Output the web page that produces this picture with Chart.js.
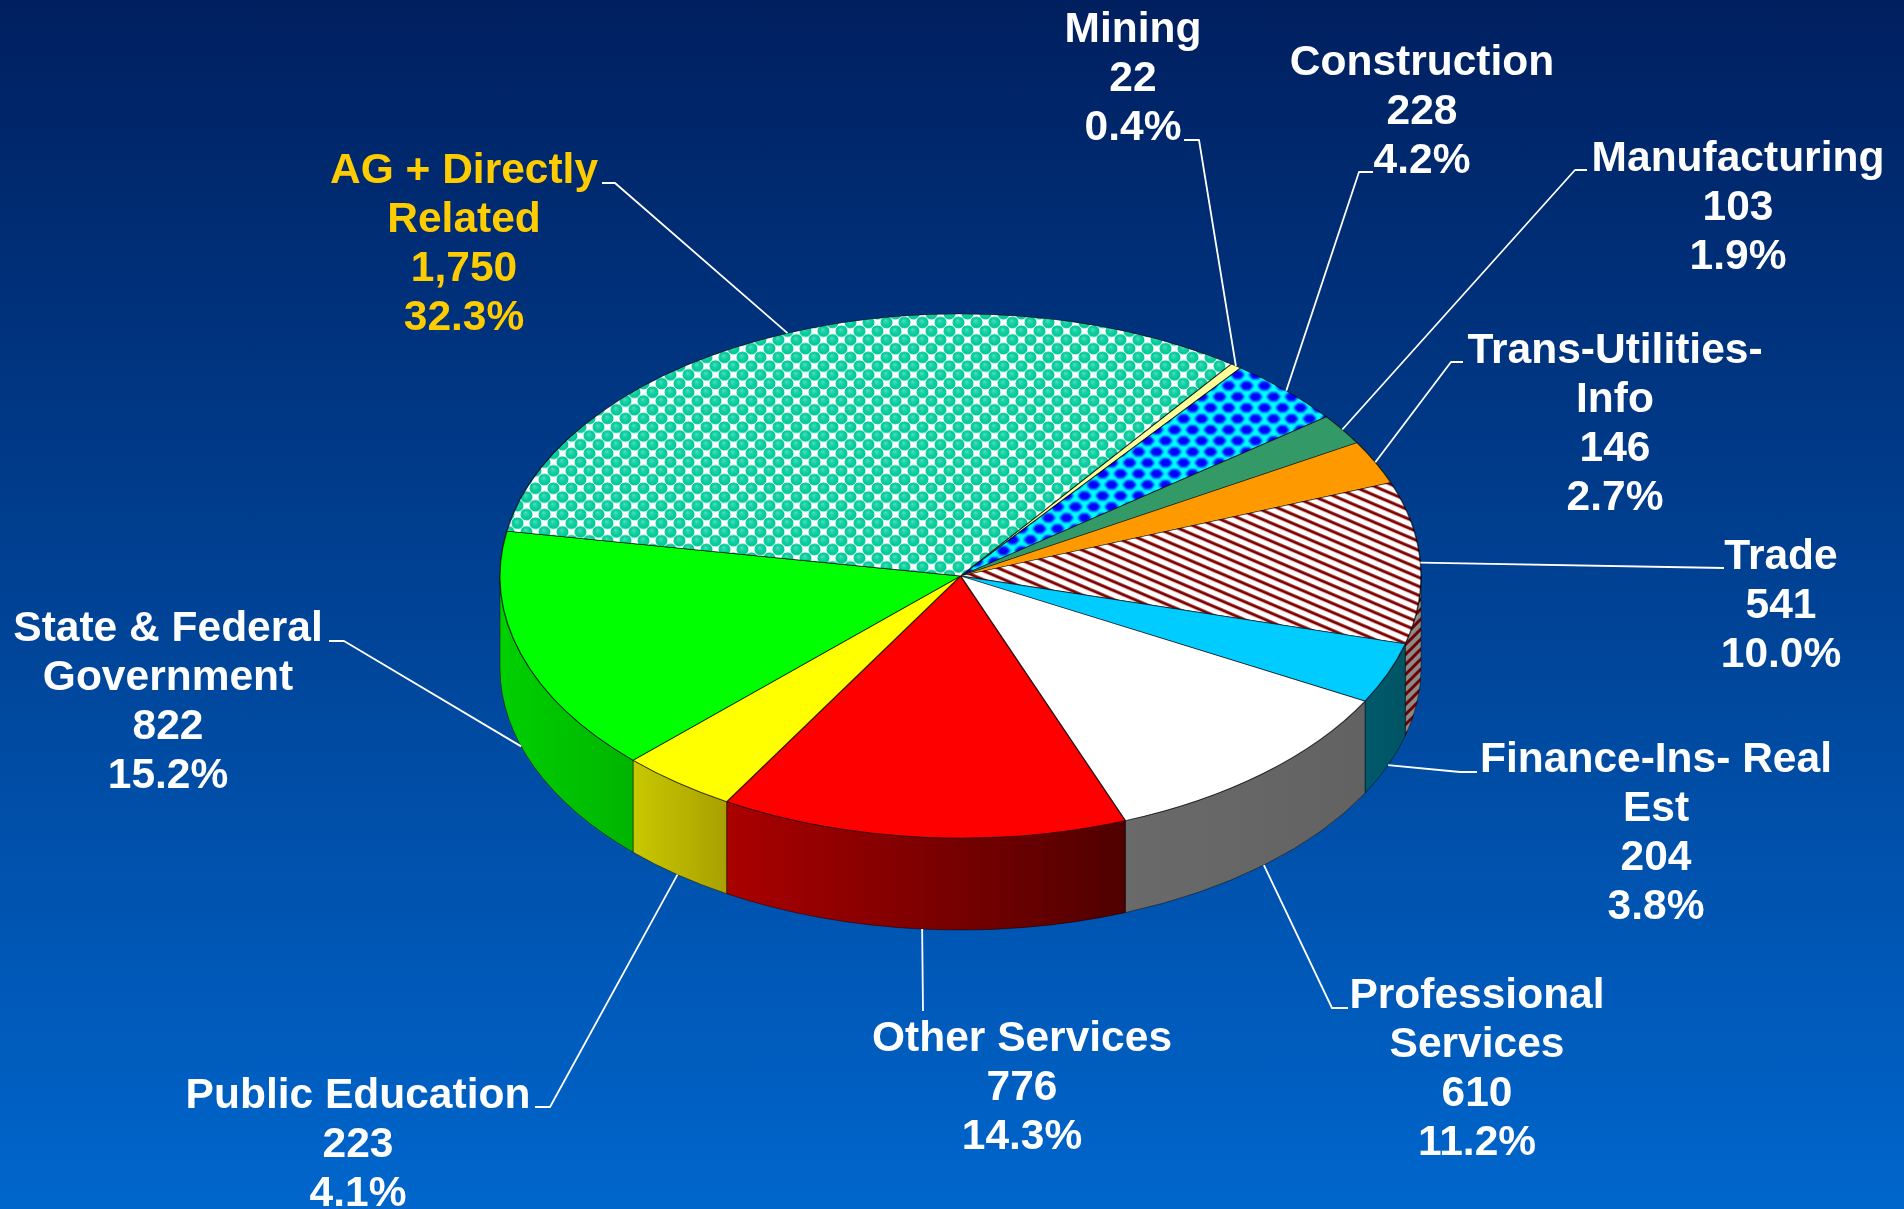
<!DOCTYPE html>
<html><head><meta charset="utf-8">
<style>html,body{margin:0;padding:0;width:1904px;height:1209px;overflow:hidden;background:linear-gradient(180deg,#001f5f 0%,#0066cc 100%)}canvas{display:block}</style>
<script src="https://cdn.jsdelivr.net/npm/chart.js@4/dist/chart.umd.min.js"></script>
</head><body><canvas id="c" width="1904" height="1209"></canvas>
<script>
const categories=['Mining','Construction','Manufacturing','Trans-Utilities-Info','Trade','Finance-Ins- Real Est','Professional Services','Other Services','Public Education','State & Federal Government','AG + Directly Related'];
const jobs=[22,228,103,146,541,204,610,776,223,822,1750];
const percents=[0.4,4.2,1.9,2.7,10.0,3.8,11.2,14.3,4.1,15.2,32.3];
const nameLines=[['Mining'],['Construction'],['Manufacturing'],['Trans-Utilities-','Info'],['Trade'],['Finance-Ins- Real','Est'],['Professional','Services'],['Other Services'],['Public Education'],['State & Federal','Government'],['AG + Directly','Related']];

// layout (not data)
const CX=960.5,CY=576,RX=460.5,RY=262,DEPTH=92,ROT=36;
const labelCenterX=[1133,1422,1738,1615,1781,1656,1477,1022,358,168,464];
const labelFirstY=[30,63,159,351,557,760,996,1039,1096,629,171];
const LINE=49.2;
const elbows=[[[1184,140],[1199,140]],[[1373,172],[1359,172]],[[1587,170],[1575,170]],[[1463,362],[1451,362]],[[1724,568]],[[1477,772],[1460,772]],[[1348,1008],[1332,1008]],[[923,1011]],[[535,1107],[550,1107]],[[329,641],[344,641]],[[602,183],[615,183]]];
const wallColors=[['#b0b070','#a0a060'],['#0000a0','#0000a0'],['#226644','#226644'],['#aa6600','#aa6600'],null,['#005a6c','#005463'],['#6a6a6a','#626262'],['#aa0000','#500000'],['#c8c800','#a8a000'],['#00d000','#00b400'],['#00a078','#00a078']];

function tile(w,h,draw){const t=document.createElement('canvas');t.width=w;t.height=h;draw(t.getContext('2d'),w,h);return t;}
const ctx0=document.getElementById('c').getContext('2d');
function pat(t,sy){const p=ctx0.createPattern(t,'repeat');p.setTransform(new DOMMatrix().scale(1,(sy||1)*RX/RY));return p;}
const agTile=tile(18,18,(c,w,h)=>{c.fillStyle='#fff';c.fillRect(0,0,w,h);
  [[4.5,4.5],[13.5,13.5],[-4.5,13.5],[13.5,-4.5],[22.5,4.5],[4.5,22.5]].forEach(([x,y])=>{
    const g=c.createRadialGradient(x-1,y-2,0,x,y,6.3);g.addColorStop(0,'#4fe0bc');g.addColorStop(.45,'#14d0a2');g.addColorStop(.88,'#00c896');g.addColorStop(1,'rgba(0,200,150,.3)');
    c.fillStyle=g;c.beginPath();c.arc(x,y,6.3,0,7);c.fill();});});
const conTile=tile(18,22,(c,w,h)=>{c.fillStyle='#00ffff';c.fillRect(0,0,w,h);
  c.filter='blur(0.8px)';c.fillStyle='#0000ff';
  [[4.5,5.5],[13.5,16.5],[-4.5,16.5],[22.5,5.5],[4.5,27.5],[13.5,-5.5]].forEach(([x,y])=>{
    c.beginPath();c.moveTo(x-7,y);c.lineTo(x-3,y-4.5);c.lineTo(x+3,y-4.5);c.lineTo(x+7,y);c.lineTo(x+3,y+4.5);c.lineTo(x-3,y+4.5);c.closePath();c.fill();});
  c.filter='none';});
function stripes(bg,fg,w,h,lw,up,bl){return tile(w,h,(c)=>{c.fillStyle=bg;c.fillRect(0,0,w,h);c.strokeStyle=fg;c.lineWidth=lw;
  if(bl)c.filter='blur('+bl+'px)';
  for(let k=-3;k<=3;k++){c.beginPath();if(up){c.moveTo(-w,h*k+2*h);c.lineTo(2*w,h*k-h);}else{c.moveTo(-w,h*k-h);c.lineTo(2*w,h*k+2*h);}c.stroke();}
  c.filter='none';});}
const tradeTile=stripes('#fff','#800000',21,9,3,false,0.5);
const tradeWall=ctx0.createPattern(stripes('#8a8a8a','#6e0000',10,10,3,true),'repeat');
const sliceFills=[ '#ffff99',pat(conTile),'#339966','#ff9900',pat(tradeTile),'#00ccff','#ffffff','#ff0000','#ffff00','#00ff00',pat(agTile,.97)];

const pie3d={id:'pie3d',
 beforeDatasetsDraw(chart){
  const c=chart.ctx,arcs=chart.getDatasetMeta(0).data,two=Math.PI*2;
  c.save();
  arcs.forEach((a,i)=>{
    for(const shift of [0,-two]){
      const s=a.startAngle+shift,e=a.endAngle+shift;
      const a0=Math.max(s,0),a1=Math.min(e,Math.PI);
      if(a1<=a0)continue;
      c.beginPath();
      c.ellipse(a.x,a.y,RX,RY,0,a0,a1);
      c.ellipse(a.x,a.y+DEPTH,RX,RY,0,a1,a0,true);
      c.closePath();
      if(wallColors[i]){
        const xa=a.x+RX*Math.cos(a0),xb=a.x+RX*Math.cos(a1);
        const g=c.createLinearGradient(Math.min(xa,xb),0,Math.max(xa,xb),0);
        g.addColorStop(0,wallColors[i][0]);g.addColorStop(1,wallColors[i][1]);
        c.fillStyle=g;
      } else c.fillStyle=tradeWall;
      c.fill();
      c.strokeStyle='rgba(0,0,0,.45)';c.lineWidth=1;c.stroke();
    }
  });
  c.restore();
  c.save();
  c.translate(CX,CY);c.scale(1,RY/RX);c.translate(-CX,-CY);
 },
 afterDatasetsDraw(chart){
  const c=chart.ctx;c.restore();
  const arcs=chart.getDatasetMeta(0).data;
  c.save();
  c.font='bold 42.5px "Liberation Sans", Arial, sans-serif';
  c.textAlign='center';c.textBaseline='middle';
  arcs.forEach((a,i)=>{
    const m=(a.startAngle+a.endAngle)/2, sn=Math.sin(m), cs=Math.cos(m);
    const px=a.x+RX*cs, py=a.y+RY*sn+(sn>0.05?DEPTH:0);
    c.strokeStyle='#fff';c.lineWidth=1.8;c.lineJoin='round';
    c.beginPath();c.moveTo(px,py);
    elbows[i].slice().reverse().forEach(p=>c.lineTo(p[0],p[1]));
    c.stroke();
    const lines=[...nameLines[i],jobs[i].toLocaleString('en-US'),percents[i].toFixed(1)+'%'];
    c.fillStyle=i===10?'#ffcc00':'#ffffff';
    lines.forEach((t,k)=>c.fillText(t,labelCenterX[i],labelFirstY[i]+k*LINE));
  });
  c.restore();
 }};

new Chart(ctx0,{type:'pie',plugins:[pie3d],
 data:{labels:categories,datasets:[{data:jobs,backgroundColor:sliceFills,borderColor:'rgba(0,0,0,.65)',borderWidth:1.4,borderJoinStyle:'round'}]},
 options:{responsive:false,animation:false,rotation:ROT,radius:RX,events:[],
  layout:{padding:{left:17,right:0,top:0,bottom:57}},
  plugins:{legend:{display:false},tooltip:{enabled:false},title:{display:false}}}});
</script></body></html>
